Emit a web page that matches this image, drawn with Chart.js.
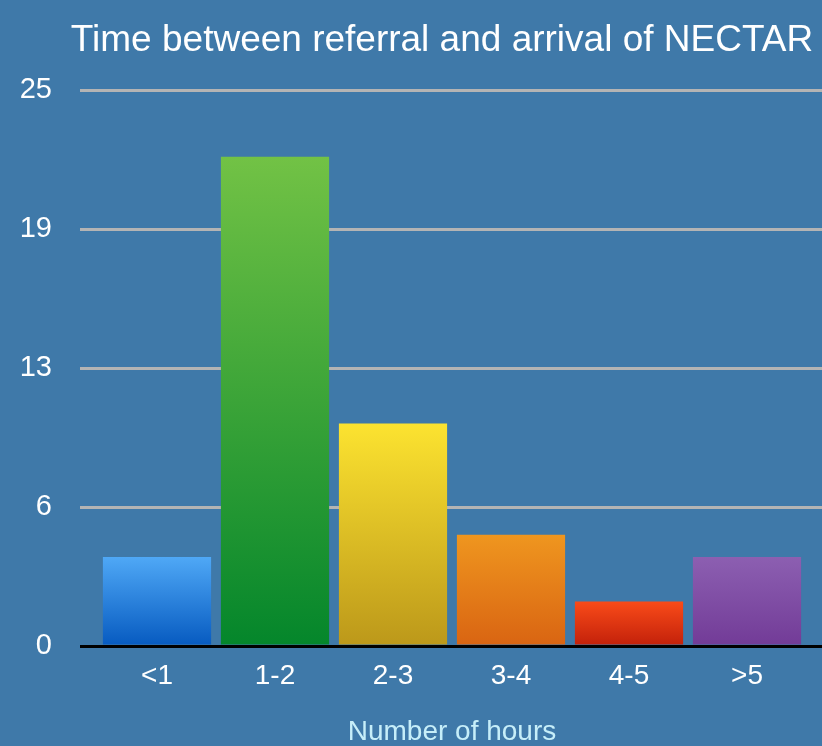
<!DOCTYPE html>
<html>
<head>
<meta charset="utf-8">
<script src="https://cdn.jsdelivr.net/npm/chart.js@4/dist/chart.umd.min.js"></script>
<style>
  html, body { margin: 0; padding: 0; background: #3f79a9; }
  #wrap { width: 822px; height: 746px; }
</style>
</head>
<body>
<div id="wrap"><canvas id="c" width="822" height="746"></canvas></div>
<script>
// Referral-to-arrival time buckets and counts
const categories = ['<1', '1-2', '2-3', '3-4', '4-5', '>5'];
const counts = [4, 22, 10, 5, 2, 4];
const yTickValues = [0, 6.25, 12.5, 18.75, 25];

// Top / bottom gradient colours for each bar
const topColors = ['#4fa8f6', '#72c245', '#fce330', '#ef961f', '#f94b19', '#8c5fb1'];
const bottomColors = ['#065ac0', '#04862b', '#bc981a', '#d96412', '#c2200a', '#723b97'];

const TITLE = 'Time between referral and arrival of NECTAR';
const FONT = '"Liberation Sans", Arial, sans-serif';

function barGradient(context) {
  const chart = context.chart;
  const area = chart.chartArea;
  if (!area) return topColors[context.dataIndex];
  const y = chart.scales.y;
  const top = y.getPixelForValue(context.raw);
  const base = y.getPixelForValue(0);
  const g = chart.ctx.createLinearGradient(0, top, 0, base);
  g.addColorStop(0, topColors[context.dataIndex]);
  g.addColorStop(1, bottomColors[context.dataIndex]);
  return g;
}

function alignPixel(chart, pixel, width) {
  const dpr = chart.currentDevicePixelRatio;
  const half = width / 2;
  return Math.round((pixel - half) * dpr) / dpr + half;
}

// Draws the heading and carries the horizontal rules to the right canvas edge
const decorations = {
  id: 'decorations',
  beforeDatasetsDraw(chart) {
    const ctx = chart.ctx;
    const y = chart.scales.y;
    const area = chart.chartArea;
    ctx.save();
    y.ticks.forEach(t => {
      const py = alignPixel(chart, y.getPixelForValue(t.value), 3);
      ctx.beginPath();
      ctx.lineWidth = 3;
      ctx.strokeStyle = t.value === 0 ? '#000000' : '#b4b4b4';
      ctx.moveTo(area.right - 1, py);
      ctx.lineTo(chart.width, py);
      ctx.stroke();
    });
    ctx.restore();
  },
  afterDraw(chart) {
    const ctx = chart.ctx;
    ctx.save();
    ctx.fillStyle = '#ffffff';
    ctx.font = '37px ' + FONT;
    ctx.textAlign = 'center';
    ctx.textBaseline = 'alphabetic';
    ctx.fillText(TITLE, 442, 51);
    ctx.restore();
  }
};

new Chart(document.getElementById('c'), {
  type: 'bar',
  data: {
    labels: categories,
    datasets: [{
      data: counts,
      backgroundColor: barGradient,
      borderWidth: 0,
      barPercentage: 0.917,
      categoryPercentage: 1.0
    }]
  },
  options: {
    responsive: false,
    animation: false,
    events: [],
    layout: { padding: { top: 90, left: 21, right: 16, bottom: 0 } },
    plugins: {
      legend: { display: false },
      title: { display: false },
      tooltip: { enabled: false }
    },
    scales: {
      x: {
        afterFit(scale) { scale.height = 100; },
        grid: { display: false, drawTicks: false },
        border: { display: false },
        ticks: {
          color: '#ffffff',
          padding: 13,
          font: { family: FONT, size: 28 }
        },
        title: {
          display: true,
          text: 'Number of hours',
          color: '#c6eef9',
          font: { family: FONT, size: 28, lineHeight: 1.0 },
          padding: { top: 27, bottom: 0 }
        }
      },
      y: {
        min: 0,
        max: 25,
        afterBuildTicks(scale) {
          scale.ticks = yTickValues.map(v => ({ value: v }));
        },
        afterFit(scale) { scale.width = 77; },
        border: { display: false },
        grid: {
          color: ctx => ctx.tick && ctx.tick.value === 0 ? '#000000' : '#b4b4b4',
          lineWidth: 3,
          tickLength: 18,
          drawTicks: true
        },
        ticks: {
          color: '#ffffff',
          padding: 28,
          font: { family: FONT, size: 29 },
          callback: v => String(Math.round(v))
        }
      }
    }
  },
  plugins: [decorations]
});
</script>
</body>
</html>
